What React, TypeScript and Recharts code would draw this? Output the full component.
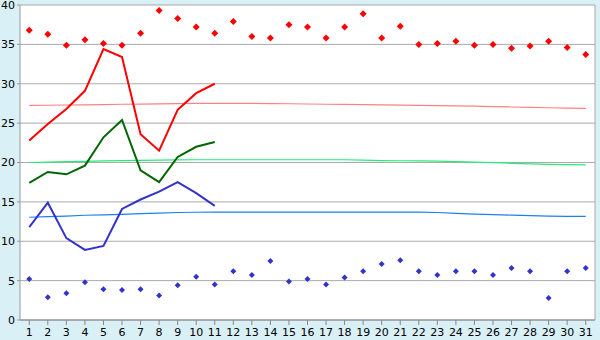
import { LineChart, Line, XAxis, YAxis, CartesianGrid, ReferenceLine } from 'recharts';

const days = Array.from({ length: 31 }, (_, i) => i + 1);

// record highs / lows (diamonds)
const recordHigh = [36.8, 36.3, 34.9, 35.6, 35.1, 34.9, 36.4, 39.3, 38.3, 37.2, 36.4, 37.9, 36.0, 35.8, 37.5, 37.2, 35.8, 37.2, 38.9, 35.8, 37.3, 35.0, 35.1, 35.4, 34.9, 35.0, 34.5, 34.8, 35.4, 34.6, 33.7];
const recordLow = [5.2, 2.9, 3.4, 4.8, 3.9, 3.8, 3.9, 3.1, 4.4, 5.5, 4.5, 6.2, 5.7, 7.5, 4.9, 5.2, 4.5, 5.4, 6.2, 7.1, 7.6, 6.2, 5.7, 6.2, 6.2, 5.7, 6.6, 6.2, 2.8, 6.2, 6.6];

// normals (pale lines)
const normalHigh = [27.25, 27.27, 27.3, 27.32, 27.36, 27.4, 27.42, 27.45, 27.48, 27.5, 27.5, 27.5, 27.5, 27.48, 27.46, 27.43, 27.4, 27.38, 27.35, 27.32, 27.28, 27.25, 27.23, 27.2, 27.15, 27.1, 27.05, 27.0, 26.95, 26.9, 26.88];
const normalMean = [20.0, 20.05, 20.1, 20.15, 20.2, 20.25, 20.28, 20.3, 20.33, 20.35, 20.35, 20.35, 20.35, 20.35, 20.35, 20.35, 20.35, 20.35, 20.3, 20.25, 20.22, 20.2, 20.18, 20.12, 20.05, 19.98, 19.9, 19.82, 19.75, 19.72, 19.7];
const normalLow = [13.05, 13.12, 13.2, 13.3, 13.36, 13.42, 13.5, 13.58, 13.65, 13.68, 13.7, 13.7, 13.7, 13.7, 13.7, 13.7, 13.7, 13.7, 13.7, 13.7, 13.7, 13.7, 13.65, 13.55, 13.45, 13.38, 13.32, 13.25, 13.18, 13.15, 13.15];

// this month so far
const tMax = [22.8, 24.9, 26.8, 29.1, 34.4, 33.4, 23.6, 21.5, 26.7, 28.8, 30.0];
const tMean = [17.4, 18.8, 18.5, 19.6, 23.2, 25.4, 19.0, 17.5, 20.7, 22.0, 22.6];
const tMin = [11.8, 14.9, 10.4, 8.9, 9.4, 14.1, 15.3, 16.3, 17.5, 16.1, 14.5];

const yTicks = [0, 5, 10, 15, 20, 25, 30, 35, 40];

const data = days.map((d, i) => ({
  day: d,
  recordHigh: recordHigh[i],
  recordLow: recordLow[i],
  normalHigh: normalHigh[i],
  normalMean: normalMean[i],
  normalLow: normalLow[i],
  tMax: tMax[i],
  tMean: tMean[i],
  tMin: tMin[i],
}));

const diamond = (color: string, r: number) => (props: any) => {
  const { cx, cy, index } = props;
  if (cx == null || cy == null) return <g key={index} />;
  return (
    <polygon
      key={index}
      points={`${cx},${cy - r} ${cx + r},${cy} ${cx},${cy + r} ${cx - r},${cy}`}
      fill={color}
    />
  );
};

export default function App() {
  return (
    <div style={{ position: 'fixed', left: 0, top: 0, width: 600, height: 340, background: '#d9f0f7' }}>
      <LineChart width={600} height={340} data={data} margin={{ top: 5, right: 5, left: 0, bottom: 0 }}>
        <CartesianGrid vertical={false} stroke="#aaaaaa" fill="#ffffff" />
        <XAxis
          dataKey="day"
          type="number"
          domain={[0.5, 31.5]}
          ticks={days}
          interval={0}
          tickSize={5}
          tickMargin={3}
          height={20}
          stroke="#888888"
          tick={{ fill: '#000', fontSize: 11, fontFamily: 'DejaVu Sans' }}
        />
        <YAxis
          domain={[0, 40]}
          ticks={yTicks}
          interval={0}
          width={20}
          tickSize={3}
          tickMargin={2}
          stroke="#999999"
          tick={{ fill: '#000', fontSize: 11, fontFamily: 'DejaVu Sans' }}
        />
        <ReferenceLine x={31.5} stroke="#aaaaaa" />
        <Line dataKey="normalHigh" stroke="#ff8080" strokeWidth={1.2} dot={false} isAnimationActive={false} />
        <Line dataKey="normalMean" stroke="#22ee77" strokeWidth={1.2} dot={false} isAnimationActive={false} />
        <Line dataKey="normalLow" stroke="#1a80f0" strokeWidth={1.2} dot={false} isAnimationActive={false} />
        <Line dataKey="tMax" stroke="#ff0000" strokeWidth={2} dot={false} isAnimationActive={false} />
        <Line dataKey="tMean" stroke="#006600" strokeWidth={2} dot={false} isAnimationActive={false} />
        <Line dataKey="tMin" stroke="#3333cc" strokeWidth={2} dot={false} isAnimationActive={false} />
        <Line dataKey="recordHigh" stroke="none" dot={diamond('#ff0000', 3.5)} activeDot={false} isAnimationActive={false} />
        <Line dataKey="recordLow" stroke="none" dot={diamond('#3333cc', 3)} activeDot={false} isAnimationActive={false} />
      </LineChart>
    </div>
  );
}
